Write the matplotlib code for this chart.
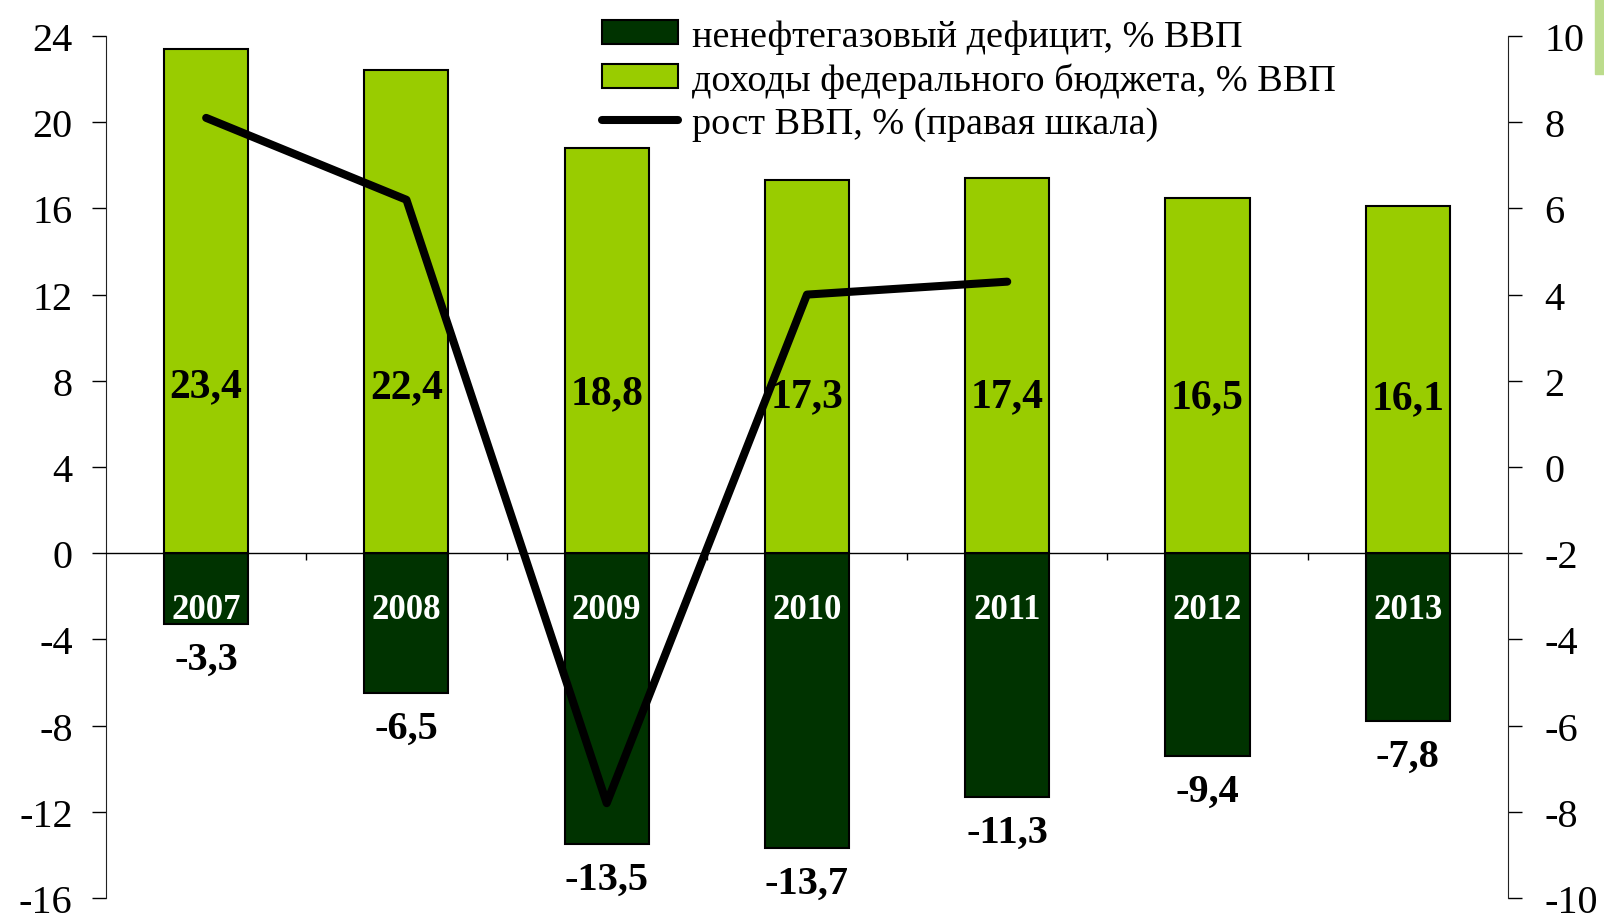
import numpy as np
import matplotlib.pyplot as plt
from matplotlib.patches import Rectangle

plt.rcParams['font.family'] = ['Liberation Serif', 'DejaVu Serif']
plt.rcParams['axes.unicode_minus'] = False

# данные
years = ['2007', '2008', '2009', '2010', '2011', '2012', '2013']
dokhody = [23.4, 22.4, 18.8, 17.3, 17.4, 16.5, 16.1]
deficit = [-3.3, -6.5, -13.5, -13.7, -11.3, -9.4, -7.8]
rost_vvp = [8.1, 6.2, -7.8, 4.0, 4.3]  # только 2007-2011

svetlo = '#99CC00'
temno = '#003300'

fig = plt.figure(figsize=(16.04, 9.2), dpi=100)
ax = fig.add_axes([0.0661, 0.0228, 0.874, 0.937])
x = np.arange(len(years))

b1 = ax.bar(x, deficit, width=0.42, color=temno, edgecolor='black', linewidth=1.5, zorder=2)
b2 = ax.bar(x, dokhody, width=0.42, color=svetlo, edgecolor='black', linewidth=1.5, zorder=2)

ax.set_xlim(-0.5, len(years) - 0.5)
ax.set_ylim(-16, 24)
ax.set_yticks(np.arange(-16, 25, 4))
ax.tick_params(axis='y', labelsize=29, length=10, width=1, pad=14, colors='black')
ax.spines['top'].set_visible(False)
ax.spines['right'].set_visible(False)
ax.spines['bottom'].set_position(('data', 0))
ax.spines['bottom'].set_linewidth(1)
ax.spines['left'].set_color('#222222')
ax.set_xticks(np.arange(len(years) - 1) + 0.5)
ax.set_xticklabels([])
ax.tick_params(axis='x', length=5, width=1, direction='out')

# подписи
for i, v in enumerate(dokhody):
    ax.text(i, 6.0 + 0.075 * v, f'{v:.1f}'.replace('.', ','), ha='center', va='center',
            fontsize=30, fontweight='bold', zorder=3)
for i, v in enumerate(deficit):
    ax.annotate(f'{v:.1f}'.replace('.', ','), (i, v), xytext=(0, -12), textcoords='offset points',
                ha='center', va='top', fontsize=29, fontweight='bold')
    ax.text(i, -2.6, years[i], ha='center', va='center', color='white',
            fontsize=25, fontweight='bold', zorder=3)

ax2 = ax.twinx()
ln, = ax2.plot(x[:len(rost_vvp)], rost_vvp, color='black', linewidth=5.8, solid_capstyle='round', zorder=4)
ax2.set_ylim(-10, 10)
ax2.set_yticks(np.arange(-10, 11, 2))
ax2.tick_params(axis='y', labelsize=29, length=10, width=1, pad=16)
ax2.spines['top'].set_visible(False)
ax2.spines['left'].set_visible(False)
ax2.spines['bottom'].set_visible(False)
ax2.spines['right'].set_color('#222222')

fig.legend([b1, b2, ln],
           ['ненефтегазовый дефицит, % ВВП', 'доходы федерального бюджета, % ВВП', 'рост ВВП, % (правая шкала)'],
           loc='upper left', bbox_to_anchor=(0.375, 0.978), frameon=False, fontsize=27.5,
           handlelength=2.0, handleheight=0.6, handletextpad=0.37, labelspacing=0.22,
           borderpad=0, borderaxespad=0)

fig.patches.append(Rectangle((1595 / 1604, 1 - 75 / 920), 0.01, 75 / 920,
                             transform=fig.transFigure, color='#BCDC8C', zorder=0))

fig.savefig('out.png', dpi=100)
